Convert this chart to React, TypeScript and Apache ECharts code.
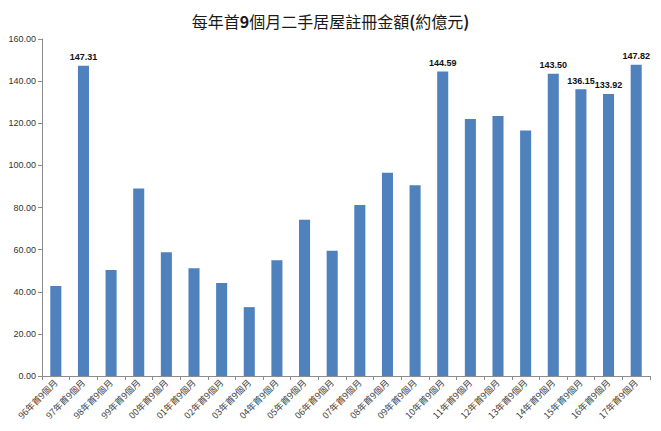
import React, { useEffect, useRef } from "react";
import * as echarts from "echarts";

const titleText = "每年首{b|9}個月二手居屋註冊金額{b|(}約億元{b|)}";
const categories = [
  "96年首9個月", "97年首9個月", "98年首9個月", "99年首9個月", "00年首9個月",
  "01年首9個月", "02年首9個月", "03年首9個月", "04年首9個月", "05年首9個月",
  "06年首9個月", "07年首9個月", "08年首9個月", "09年首9個月", "10年首9個月",
  "11年首9個月", "12年首9個月", "13年首9個月", "14年首9個月", "15年首9個月",
  "16年首9個月", "17年首9個月",
];
const values = [
  42.7, 147.31, 50.3, 89.0, 58.7, 51.2, 44.2, 32.7, 54.9, 74.2, 59.5,
  81.2, 96.5, 90.6, 144.59, 122.0, 123.5, 116.5, 143.5, 136.15, 133.92, 147.82,
];
const labeledCategories = [
  "97年首9個月", "10年首9個月", "14年首9個月", "15年首9個月", "16年首9個月", "17年首9個月",
];
const yTicks = { min: 0, max: 160, interval: 20 };

export default function App() {
  const ref = useRef<HTMLDivElement>(null);
  useEffect(() => {
    document.body.style.margin = "0";
    const chart = echarts.init(ref.current!, null, { renderer: "svg" });
    chart.setOption({
      animation: false,
      backgroundColor: "#ffffff",
      title: {
        text: titleText,
        left: "center",
        top: 8,
        textStyle: {
          fontFamily: "Noto Sans CJK TC",
          fontSize: 16,
          fontWeight: "normal",
          color: "#1a1a1a",
          rich: {
            b: {
              fontFamily: "Noto Sans CJK TC",
              fontSize: 16,
              fontWeight: "bold",
              color: "#1a1a1a",
            },
          },
        },
      },
      grid: { left: 42, right: 11, top: 39, bottom: 55, containLabel: false },
      xAxis: {
        type: "category",
        data: categories,
        axisLine: { lineStyle: { color: "#8c8c8c" } },
        axisTick: { show: true, length: 4, lineStyle: { color: "#8c8c8c" } },
        axisLabel: {
          interval: 0,
          rotate: 45,
          fontSize: 9,
          margin: 5,
          color: "#444",
          fontFamily: "Noto Sans CJK TC",
        },
      },
      yAxis: {
        type: "value",
        min: yTicks.min,
        max: yTicks.max,
        interval: yTicks.interval,
        splitLine: { show: false },
        axisLine: { show: true, lineStyle: { color: "#8c8c8c" } },
        axisTick: { show: true, length: 4, lineStyle: { color: "#8c8c8c" } },
        axisLabel: {
          formatter: (v: number) => v.toFixed(2),
          fontSize: 9,
          margin: 6,
          color: "#333",
          fontFamily: "Liberation Sans",
        },
      },
      series: [
        {
          type: "bar",
          data: values,
          barWidth: "40%",
          itemStyle: { color: "#4f81bd" },
          label: {
            show: true,
            position: "top",
            distance: 4,
            fontSize: 9,
            fontWeight: "bold",
            color: "#111",
            fontFamily: "Liberation Sans",
            formatter: (p: any) =>
              labeledCategories.includes(p.name) ? (p.value as number).toFixed(2) : "",
          },
        },
      ],
    });
    return () => chart.dispose();
  }, []);
  return <div ref={ref} style={{ width: 661, height: 431 }} />;
}
